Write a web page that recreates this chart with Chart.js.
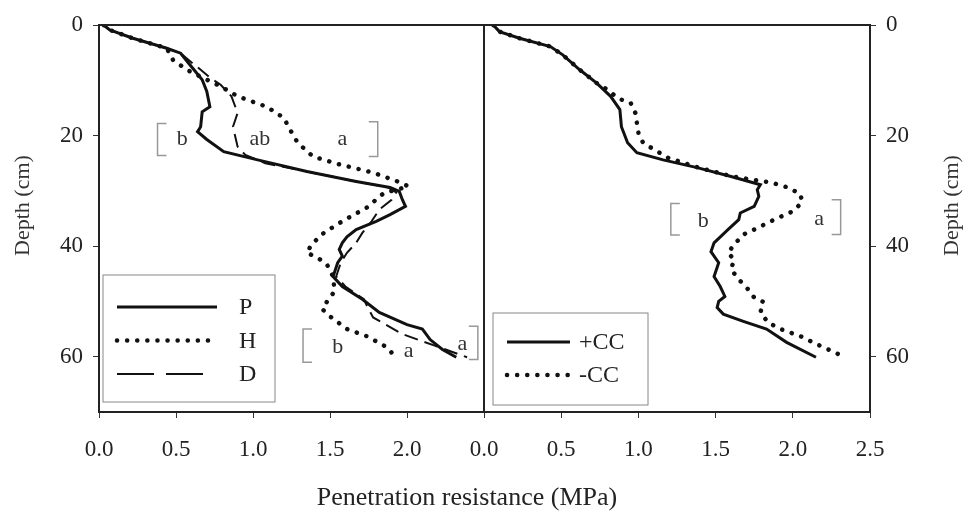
<!DOCTYPE html>
<html>
<head>
<meta charset="utf-8">
<script src="https://cdn.jsdelivr.net/npm/chart.js@4"></script>
<style>
  body { margin: 0; background: #fff; width: 964px; height: 511px; position: relative; overflow: hidden; }
  canvas { position: absolute; top: 0; }
  #left { left: 0; }
  #right { left: 468px; }
  #xtitle { position: absolute; left: 0; width: 934px; top: 482px; text-align: center;
            font: 26px 'Liberation Serif', serif; color: #222; }
</style>
</head>
<body>
<canvas id="left" width="500" height="511"></canvas>
<canvas id="right" width="496" height="511"></canvas>
<div id="xtitle">Penetration resistance (MPa)</div>
<script>
// tick labels
const xTicks = [0, 0.5, 1.0, 1.5, 2.0, 2.5];
const yTicks = [0, 20, 40, 60];

// left panel: P / H / D  (depth cm, resistance MPa)
const pDepth = [0, 0.9, 2.4, 4.2, 5.1, 7.2, 9.9, 12, 14.8, 15.7, 18.4, 19.3, 20.7, 22.9, 24.4, 26.5, 28.3, 29.4, 30.1, 31.6, 32.8, 34.3, 35.5, 37, 38.3, 39.4, 40.6, 41.8, 43, 45.5, 47.3, 49.6, 52, 54.2, 55, 56.9, 58.7, 60.1];
const pRes   = [0.03, 0.07, 0.22, 0.44, 0.53, 0.59, 0.67, 0.70, 0.72, 0.67, 0.66, 0.64, 0.70, 0.81, 1.03, 1.35, 1.67, 1.89, 1.95, 1.97, 1.99, 1.89, 1.80, 1.67, 1.61, 1.58, 1.56, 1.58, 1.55, 1.52, 1.58, 1.71, 1.82, 2.00, 2.10, 2.15, 2.23, 2.32];

const hDepth = [0, 0.9, 2.4, 4.2, 6.3, 8.1, 9.9, 11.1, 12.9, 14.8, 16.8, 18.9, 21.3, 23.8, 25.2, 26.7, 28.2, 29.2, 30.4, 33, 35.5, 37.6, 39.7, 41.2, 42.1, 43.3, 45.5, 48.2, 49.6, 51.4, 52.7, 55, 56.3, 58.3, 59.9];
const hRes   = [0.03, 0.07, 0.22, 0.44, 0.48, 0.57, 0.70, 0.79, 0.90, 1.09, 1.20, 1.24, 1.29, 1.39, 1.56, 1.78, 1.93, 2.01, 1.85, 1.74, 1.58, 1.46, 1.38, 1.35, 1.42, 1.48, 1.52, 1.53, 1.49, 1.45, 1.50, 1.61, 1.74, 1.87, 1.92];

const dDepth = [0, 0.9, 2.4, 4.2, 5.1, 7.2, 8.1, 9.5, 10.8, 12.9, 15.9, 18.4, 22, 23.5, 25, 26.5, 28.3, 29.4, 30.3, 31.6, 33.4, 35.5, 37.6, 39.4, 41.2, 43, 45.5, 47.3, 49.6, 50.8, 52.9, 55.9, 58, 60.1];
const dRes   = [0.03, 0.07, 0.22, 0.44, 0.53, 0.62, 0.66, 0.72, 0.79, 0.86, 0.90, 0.87, 0.90, 0.95, 1.08, 1.35, 1.67, 1.88, 1.93, 1.90, 1.82, 1.77, 1.71, 1.67, 1.61, 1.57, 1.54, 1.60, 1.72, 1.74, 1.78, 1.97, 2.18, 2.39];

// right panel: +CC / -CC
const ccPlusDepth = [0, 1.2, 2.4, 3.9, 5.4, 8.1, 10.5, 12.9, 15.3, 18.4, 21.3, 23.1, 24.4, 25.8, 27.4, 28.9, 29.8, 31, 32.8, 34, 35.2, 37, 39.4, 41, 43, 45.5, 47.3, 49.1, 50, 51.1, 52.3, 53.6, 55, 57.4, 60.1];
const ccPlusRes   = [0.06, 0.10, 0.23, 0.43, 0.51, 0.62, 0.73, 0.82, 0.88, 0.89, 0.93, 0.99, 1.16, 1.38, 1.60, 1.79, 1.77, 1.78, 1.75, 1.66, 1.65, 1.58, 1.49, 1.47, 1.52, 1.49, 1.53, 1.56, 1.52, 1.51, 1.55, 1.68, 1.83, 1.96, 2.15];

const ccMinusDepth = [0, 1.2, 2.4, 3.9, 5.4, 8.1, 10.5, 11.7, 13.3, 14.1, 15.9, 17.7, 19.5, 21.3, 22.5, 24, 25.8, 27.4, 28.5, 29.4, 30.6, 32.1, 33.7, 35.2, 37, 37.9, 39.4, 41.2, 42.4, 44.2, 46, 47.8, 49.3, 50.1, 52, 53.8, 55, 56.3, 57.8, 59.6];
const ccMinusRes   = [0.06, 0.10, 0.23, 0.43, 0.51, 0.62, 0.73, 0.80, 0.87, 0.95, 0.98, 0.99, 1.00, 1.03, 1.10, 1.19, 1.39, 1.61, 1.86, 1.97, 2.05, 2.06, 2.00, 1.88, 1.75, 1.68, 1.63, 1.58, 1.62, 1.60, 1.65, 1.71, 1.75, 1.81, 1.79, 1.84, 1.92, 2.05, 2.16, 2.30];

// significance letters (value, depth)
const leftBrackets = [
  { x: 0.38, y0: 17.8, y1: 23.6, side: 'left' },
  { x: 1.81, y0: 17.5, y1: 23.8, side: 'right' },
  { x: 1.325, y0: 55, y1: 61, side: 'left' },
  { x: 2.46, y0: 54.5, y1: 60.5, side: 'right' }
];
const leftLetters = [
  { t: 'b', x: 0.54, y: 20.7 }, { t: 'ab', x: 1.045, y: 20.7 }, { t: 'a', x: 1.58, y: 20.7 },
  { t: 'b', x: 1.55, y: 58.3 }, { t: 'a', x: 2.01, y: 59 }, { t: 'a', x: 2.36, y: 57.7 }
];
const rightBrackets = [
  { x: 1.21, y0: 32.3, y1: 38, side: 'left' },
  { x: 2.31, y0: 31.6, y1: 37.9, side: 'right' }
];
const rightLetters = [
  { t: 'b', x: 1.42, y: 35.5 }, { t: 'a', x: 2.17, y: 35.2 }
];

Chart.defaults.font.family = "'Liberation Serif', serif";
Chart.defaults.font.size = 23;
Chart.defaults.color = '#222';

const pts = (d, v) => d.map((dep, i) => ({ x: v[i], y: dep }));

const solid  = { borderColor: '#111', borderWidth: 3, borderDash: [] };
const dotted = { borderColor: '#111', borderWidth: 4.5, borderDash: [0.1, 10], borderCapStyle: 'round' };
const dashed = { borderColor: '#111', borderWidth: 2, borderDash: [14, 7], legendDash: [37, 12, 37, 100] };

const decor = {
  id: 'decor',
  afterDatasetsDraw(chart, args, o) {
    const { ctx, chartArea: a, scales: { x, y } } = chart;
    ctx.save();
    ctx.strokeStyle = '#222';
    ctx.lineWidth = 2;
    ctx.strokeRect(a.left, a.top, a.right - a.left, a.bottom - a.top);

    ctx.strokeStyle = '#999';
    ctx.lineWidth = 1.5;
    o.brackets.forEach(b => {
      const px = x.getPixelForValue(b.x);
      const y0 = y.getPixelForValue(b.y0), y1 = y.getPixelForValue(b.y1);
      const arm = b.side === 'left' ? 9 : -9;
      ctx.beginPath();
      ctx.moveTo(px + arm, y0); ctx.lineTo(px, y0); ctx.lineTo(px, y1); ctx.lineTo(px + arm, y1);
      ctx.stroke();
    });

    ctx.fillStyle = '#333';
    ctx.font = "22px 'Liberation Serif', serif";
    ctx.textAlign = 'center';
    ctx.textBaseline = 'middle';
    o.letters.forEach(l => ctx.fillText(l.t, x.getPixelForValue(l.x), y.getPixelForValue(l.y)));

    // legend box
    const lg = o.legend;
    const bx = a.left + lg.dx, by = a.bottom - lg.dy - lg.h;
    ctx.fillStyle = '#fff';
    ctx.fillRect(bx, by, lg.w, lg.h);
    ctx.strokeStyle = '#888';
    ctx.lineWidth = 1;
    ctx.strokeRect(bx, by, lg.w, lg.h);
    chart.data.datasets.forEach((ds, i) => {
      const ly = by + lg.first + i * lg.step;
      ctx.strokeStyle = ds.borderColor;
      ctx.lineWidth = ds.borderWidth;
      ctx.lineCap = ds.borderCapStyle || 'butt';
      ctx.setLineDash(ds.legendDash || ds.borderDash || []);
      ctx.beginPath();
      ctx.moveTo(bx + lg.l0, ly); ctx.lineTo(bx + lg.l1, ly);
      ctx.stroke();
      ctx.setLineDash([]);
      ctx.fillStyle = '#222';
      ctx.font = "24px 'Liberation Serif', serif";
      ctx.textAlign = 'left';
      ctx.fillText(ds.label, bx + lg.tx, ly + 1);
    });

    // rotated depth title
    ctx.save();
    ctx.translate(o.side === 'left' ? a.left - 76 : a.right + 82, (a.top + a.bottom) / 2 - 13);
    ctx.rotate(-Math.PI / 2);
    ctx.fillStyle = '#333';
    ctx.font = "22px 'Liberation Serif', serif";
    ctx.textAlign = 'center';
    ctx.fillText('Depth (cm)', 0, 0);
    ctx.restore();
    ctx.restore();
  }
};

function makePanel(id, datasets, side, decorOpts, hideLast) {
  return new Chart(document.getElementById(id), {
    type: 'line',
    data: { datasets },
    options: {
      responsive: false,
      animation: false,
      layout: { padding: side === 'left' ? { left: 0, right: 16, top: 25, bottom: 0 } : { left: 16, right: 0, top: 25, bottom: 0 } },
      elements: { point: { radius: 0 }, line: { tension: 0, fill: false } },
      scales: {
        x: {
          type: 'linear', min: 0, max: 2.5,
          afterBuildTicks: s => { s.ticks = xTicks.map(v => ({ value: v })); },
          afterFit: s => { s.height = 99; s.paddingLeft = 0; s.paddingRight = 0; },
          grid: { drawOnChartArea: false, tickLength: 6, color: '#333' },
          border: { display: false },
          ticks: { padding: 18, callback: v => (hideLast && v === 2.5) ? '' : v.toFixed(1), maxRotation: 0 }
        },
        y: {
          type: 'linear', min: 0, max: 70, reverse: true, position: side,
          afterBuildTicks: s => { s.ticks = yTicks.map(v => ({ value: v })); },
          afterFit: s => { s.width = side === 'left' ? 99 : 94; s.paddingTop = 0; s.paddingBottom = 0; },
          grid: { drawOnChartArea: false, tickLength: 6, color: '#333' },
          border: { display: false },
          ticks: { padding: 10 }
        }
      },
      plugins: {
        legend: { display: false },
        tooltip: { enabled: false },
        decor: Object.assign({ side }, decorOpts)
      }
    },
    plugins: [decor]
  });
}

makePanel('left', [
  Object.assign({ label: 'P', data: pts(pDepth, pRes) }, solid),
  Object.assign({ label: 'H', data: pts(hDepth, hRes) }, dotted),
  Object.assign({ label: 'D', data: pts(dDepth, dRes) }, dashed)
], 'left', {
  brackets: leftBrackets, letters: leftLetters,
  legend: { dx: 4, dy: 10, w: 172, h: 127, first: 32, step: 33.5, l0: 14, l1: 114, tx: 136 }
}, true);

makePanel('right', [
  Object.assign({ label: '+CC', data: pts(ccPlusDepth, ccPlusRes) }, solid),
  Object.assign({ label: '-CC', data: pts(ccMinusDepth, ccMinusRes) }, dotted)
], 'right', {
  brackets: rightBrackets, letters: rightLetters,
  legend: { dx: 9, dy: 7, w: 155, h: 92, first: 29, step: 33, l0: 14, l1: 77, tx: 86 }
}, false);
</script>
</body>
</html>
